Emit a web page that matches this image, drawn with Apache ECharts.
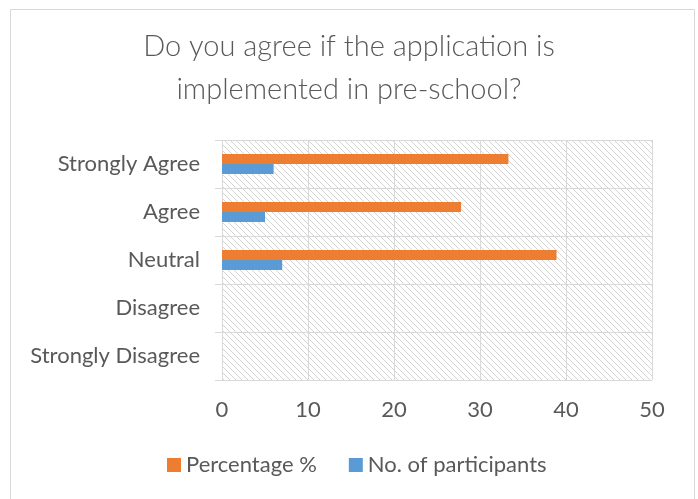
<!DOCTYPE html>
<html><head><meta charset="utf-8">
<script src="https://cdn.jsdelivr.net/npm/echarts@6/dist/echarts.min.js"></script>
<style>html,body{margin:0;padding:0;background:#fff}#c{width:698px;height:499px}</style>
</head><body><div id="c"></div>
<script>
var categories = ['Strongly Agree', 'Agree', 'Neutral', 'Disagree', 'Strongly Disagree'];
var percentage = [33.3, 27.8, 38.9, 0, 0];
var participants = [6, 5, 7, 0, 0];
var xTicks = [0, 10, 20, 30, 40, 50];

var pc = document.createElement('canvas');
pc.width = 6; pc.height = 6;
var g = pc.getContext('2d');
g.fillStyle = '#ffffff'; g.fillRect(0,0,6,6);
g.strokeStyle = '#d4d4d4'; g.lineWidth = 1;
g.beginPath();
g.moveTo(-1,-1); g.lineTo(7,7);
g.moveTo(-4,2); g.lineTo(4,10);
g.moveTo(2,-4); g.lineTo(10,4);
g.stroke();

var chart = echarts.init(document.getElementById('c'), null, {renderer:'canvas'});
var font = 'Lato, "Open Sans", sans-serif';
chart.setOption({
  animation:false,
  graphic:[{type:'rect', shape:{x:10.5,y:9.5,width:684,height:500}, style:{fill:'none', stroke:'#d9d9d9', lineWidth:1}}],
  title:{text:'Do you agree if the application is\nimplemented in pre-school?', left:'center', top:20,
    textStyle:{fontFamily:font, fontWeight:300, fontSize:29, color:'#595959', lineHeight:43}},
  legend:{bottom:18, left:162, itemWidth:14, itemHeight:14, itemGap:32, icon:'rect',
    textStyle:{fontFamily:font, fontSize:22, color:'#595959'},
    data:['Percentage %','No. of participants']},
  grid:{left:222, right:46, top:140, bottom:119, show:true, borderWidth:0,
    backgroundColor:{image:pc, repeat:'repeat'}},
  xAxis:{type:'value', min:0, max:50, interval:10,
    axisLine:{show:false}, axisTick:{show:false},
    axisLabel:{fontFamily:font, fontSize:22, color:'#595959', margin:19,
      formatter:function(v){return xTicks.indexOf(v)>=0?String(v):'';}},
    splitLine:{show:true, lineStyle:{color:'#d9d9d9', width:1}}},
  yAxis:{type:'category', data:categories, inverse:true,
    axisLine:{show:false},
    axisTick:{show:true, length:7, lineStyle:{color:'#d9d9d9'}},
    axisLabel:{fontFamily:font, fontSize:22, color:'#595959', margin:22},
    splitLine:{show:true, lineStyle:{color:'#d9d9d9', width:1}}},
  series:[
    {name:'Percentage %', type:'bar', data:percentage, barWidth:10, barGap:'0%', itemStyle:{color:'#ED7D31'}},
    {name:'No. of participants', type:'bar', data:participants, barWidth:10, barGap:'0%', itemStyle:{color:'#5B9BD5'}}
  ]
});
</script></body></html>
